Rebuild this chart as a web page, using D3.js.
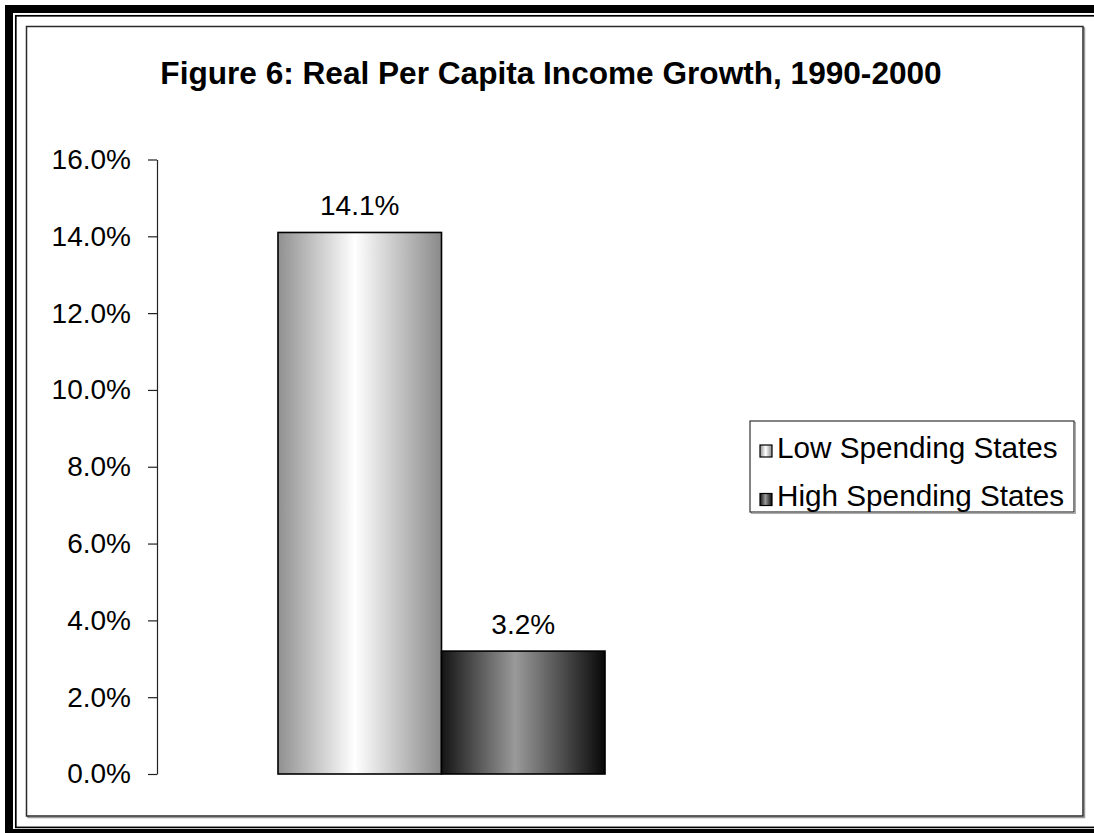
<!DOCTYPE html>
<html>
<head>
<meta charset="utf-8">
<script src="https://cdn.jsdelivr.net/npm/d3@7"></script>
<style>
  body { margin: 0; background: #fff; }
  text { font-family: "Liberation Sans", Arial, sans-serif; fill: #000; }
</style>
</head>
<body>
<svg id="chart" width="1094" height="833"></svg>
<script>
// Data
const categories = ["1990-2000"];
const seriesNames = ["Low Spending States", "High Spending States"];
const seriesValues = [14.1, 3.2];
const yTicks = [0, 2, 4, 6, 8, 10, 12, 14, 16];
const titleText = "Figure 6: Real Per Capita Income Growth, 1990-2000";

const svg = d3.select("#chart");
const W = 1094, H = 833;

// Gradient fills (cylinder-like horizontal shading)
const defs = svg.append("defs");
const gradSpecs = [
  { id: "g0", stops: [[0, "#909090"], [0.47, "#ffffff"], [1, "#8a8a8a"]] },
  { id: "g1", stops: [[0, "#141414"], [0.45, "#9a9a9a"], [1, "#080808"]] }
];
gradSpecs.forEach(g => {
  const lg = defs.append("linearGradient").attr("id", g.id)
    .attr("x1", "0%").attr("x2", "100%").attr("y1", "0%").attr("y2", "0%");
  g.stops.forEach(s => lg.append("stop").attr("offset", s[0]).attr("stop-color", s[1]));
});

// Outer double frame (thick outside, thin inside)
svg.append("rect").attr("x", 9).attr("y", 9).attr("width", W + 20).attr("height", 824)
  .attr("fill", "none").attr("stroke", "#000").attr("stroke-width", 8);
svg.append("rect").attr("x", 15.8).attr("y", 15.8).attr("width", W + 20).attr("height", 811.6)
  .attr("fill", "none").attr("stroke", "#000").attr("stroke-width", 1.7);

// Chart area with soft shadow
svg.append("rect").attr("x", 28).attr("y", 28).attr("width", 1056.5).attr("height", 789.5)
  .attr("fill", "none").attr("stroke", "#9a9a9a").attr("stroke-width", 1.5);
svg.append("rect").attr("x", 26.5).attr("y", 26.5).attr("width", 1056.5).attr("height", 789.5)
  .attr("fill", "#fff").attr("stroke", "#2a2a2a").attr("stroke-width", 1.5);

// Title
svg.append("text").attr("x", 551).attr("y", 84)
  .attr("text-anchor", "middle").attr("font-size", 31.6).attr("font-weight", "bold")
  .text(titleText);

// Scales
const plot = { left: 157, right: 726, top: 159.5, bottom: 774 };
const y = d3.scaleLinear().domain([0, 16]).range([plot.bottom, plot.top]);
const x0 = d3.scaleBand().domain(categories).range([plot.left, plot.right])
  .paddingInner(0).paddingOuter(0.37);
const x1 = d3.scaleBand().domain(seriesNames).range([0, x0.bandwidth()]).padding(0);

// Y axis
const yAxis = d3.axisLeft(y).tickValues(yTicks)
  .tickFormat(d => d3.format(".1f")(d) + "%")
  .tickSizeInner(9).tickSizeOuter(0).tickPadding(17);
const gy = svg.append("g").attr("transform", `translate(${plot.left},0)`).call(yAxis);
gy.select(".domain").attr("stroke", "#222").attr("stroke-width", 1.2);
gy.selectAll(".tick line").attr("stroke", "#222").attr("stroke-width", 1.2);
gy.selectAll(".tick text").attr("font-size", 28)
  .attr("font-family", '"Liberation Sans", Arial, sans-serif').attr("fill", "#000");

// Bars
const groups = svg.append("g").selectAll("g").data(categories).join("g")
  .attr("transform", d => `translate(${x0(d)},0)`);
const barData = seriesNames.map((s, i) => ({ name: s, value: seriesValues[i], i }));
groups.selectAll("rect").data(barData).join("rect")
  .attr("x", d => x1(d.name))
  .attr("y", d => y(d.value))
  .attr("width", x1.bandwidth())
  .attr("height", d => y(0) - y(d.value))
  .attr("fill", d => `url(#g${d.i})`)
  .attr("stroke", "#000").attr("stroke-width", 1.6);

// Value labels
groups.selectAll("text.val").data(barData).join("text").attr("class", "val")
  .attr("x", d => x1(d.name) + x1.bandwidth() / 2)
  .attr("y", d => y(d.value) - 17)
  .attr("text-anchor", "middle").attr("font-size", 28)
  .text(d => d3.format(".1f")(d.value) + "%");

// Legend
const lg = svg.append("g").attr("transform", "translate(750,421)");
lg.append("rect").attr("x", 1.5).attr("y", 1.5).attr("width", 324).attr("height", 91)
  .attr("fill", "none").attr("stroke", "#aaa").attr("stroke-width", 1);
lg.append("rect").attr("width", 324).attr("height", 91)
  .attr("fill", "#fff").attr("stroke", "#333").attr("stroke-width", 1.2);
const items = lg.selectAll("g.item").data(barData).join("g").attr("class", "item")
  .attr("transform", d => `translate(10,${24 + d.i * 48.5})`);
items.append("rect").attr("width", 12).attr("height", 12)
  .attr("fill", d => `url(#g${d.i})`).attr("stroke", "#000").attr("stroke-width", 1.2);
items.append("text").attr("x", 17).attr("y", 12.5).attr("font-size", 29.7)
  .text(d => d.name);
</script>
</body>
</html>
